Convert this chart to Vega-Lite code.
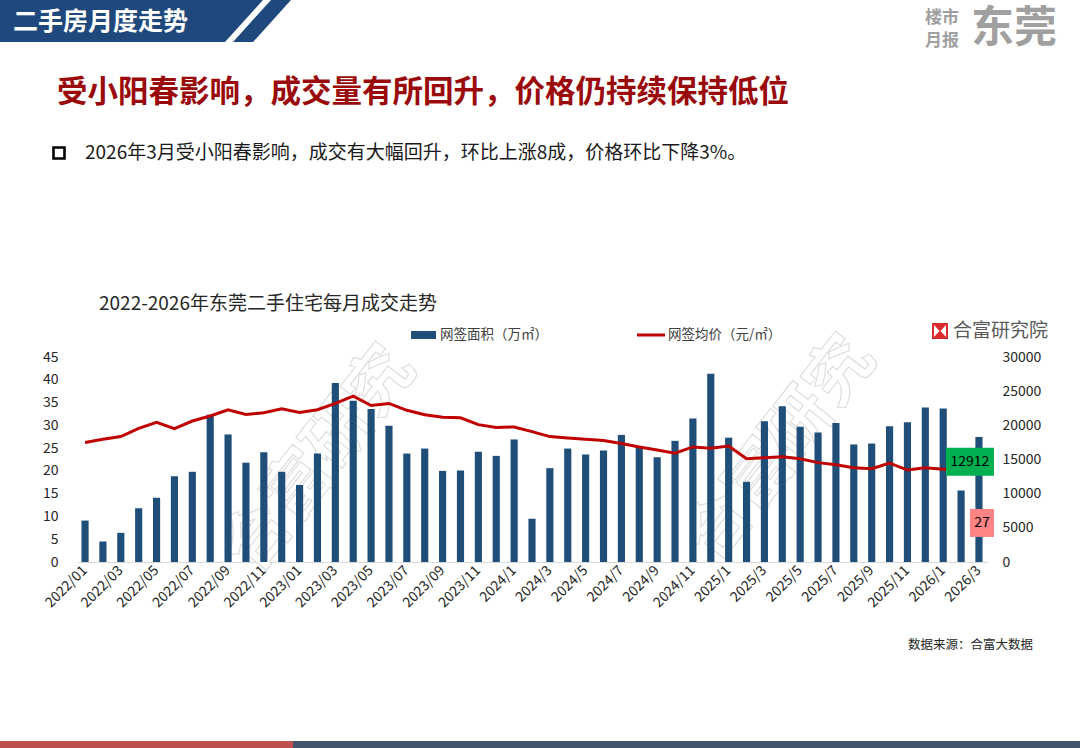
{
  "$schema": "https://vega.github.io/schema/vega-lite/v6.json",
  "width": 910,
  "height": 205,
  "autosize": {"type": "none"},
  "padding": {"left": 77, "top": 357, "right": 93, "bottom": 186},
  "background": "#ffffff",
  "config": {
    "font": "Noto Sans CJK SC",
    "view": {"stroke": null},
    "axis": {"labelFont": "Noto Sans CJK SC"}
  },
  "data": {
    "values": [
      {"month": "2022/01", "area": 9.1, "price": 17500},
      {"month": "2022/02", "area": 4.5, "price": 17960},
      {"month": "2022/03", "area": 6.4, "price": 18350},
      {"month": "2022/04", "area": 11.8, "price": 19560},
      {"month": "2022/05", "area": 14.1, "price": 20440},
      {"month": "2022/06", "area": 18.8, "price": 19510},
      {"month": "2022/07", "area": 19.8, "price": 20630},
      {"month": "2022/08", "area": 32.3, "price": 21360},
      {"month": "2022/09", "area": 28.0, "price": 22280},
      {"month": "2022/10", "area": 21.8, "price": 21600},
      {"month": "2022/11", "area": 24.1, "price": 21840},
      {"month": "2022/12", "area": 19.8, "price": 22430},
      {"month": "2023/01", "area": 16.9, "price": 21890},
      {"month": "2023/02", "area": 23.8, "price": 22280},
      {"month": "2023/03", "area": 39.3, "price": 23200},
      {"month": "2023/04", "area": 35.4, "price": 24270},
      {"month": "2023/05", "area": 33.6, "price": 22900},
      {"month": "2023/06", "area": 29.9, "price": 23200},
      {"month": "2023/07", "area": 23.8, "price": 22200},
      {"month": "2023/08", "area": 24.9, "price": 21550},
      {"month": "2023/09", "area": 20.0, "price": 21200},
      {"month": "2023/10", "area": 20.1, "price": 21100},
      {"month": "2023/11", "area": 24.2, "price": 20100},
      {"month": "2023/12", "area": 23.3, "price": 19700},
      {"month": "2024/1", "area": 26.9, "price": 19760},
      {"month": "2024/2", "area": 9.5, "price": 19080},
      {"month": "2024/3", "area": 20.6, "price": 18350},
      {"month": "2024/4", "area": 24.9, "price": 18160},
      {"month": "2024/5", "area": 23.6, "price": 17960},
      {"month": "2024/6", "area": 24.5, "price": 17770},
      {"month": "2024/7", "area": 27.9, "price": 17330},
      {"month": "2024/8", "area": 25.3, "price": 16840},
      {"month": "2024/9", "area": 23.0, "price": 16400},
      {"month": "2024/10", "area": 26.6, "price": 15920},
      {"month": "2024/11", "area": 31.5, "price": 16840},
      {"month": "2024/12", "area": 41.3, "price": 16650},
      {"month": "2025/1", "area": 27.3, "price": 16980},
      {"month": "2025/2", "area": 17.6, "price": 15100},
      {"month": "2025/3", "area": 30.9, "price": 15270},
      {"month": "2025/4", "area": 34.2, "price": 15410},
      {"month": "2025/5", "area": 29.7, "price": 15120},
      {"month": "2025/6", "area": 28.4, "price": 14540},
      {"month": "2025/7", "area": 30.5, "price": 14240},
      {"month": "2025/8", "area": 25.8, "price": 13800},
      {"month": "2025/9", "area": 26.0, "price": 13660},
      {"month": "2025/10", "area": 29.8, "price": 14490},
      {"month": "2025/11", "area": 30.7, "price": 13460},
      {"month": "2025/12", "area": 33.9, "price": 13800},
      {"month": "2026/1", "area": 33.7, "price": 13560},
      {"month": "2026/2", "area": 15.7, "price": 13310},
      {"month": "2026/3", "area": 27.45, "price": 12912}
    ]
  },
  "resolve": {"scale": {"y": "independent"}, "axis": {"y": "independent"}},
  "layer": [
    {
      "data": {"values": [{}]},
      "mark": {"type": "text", "text": "合富研究", "angle": -52, "fontSize": 66, "fontWeight": "bold", "fill": "#ffffff", "stroke": "#dcdcdc", "strokeWidth": 1.1, "align": "center", "baseline": "middle"},
      "encoding": {"x": {"value": 243}, "y": {"value": 103}}
    },
    {
      "data": {"values": [{}]},
      "mark": {"type": "text", "text": "合富研究", "angle": -52, "fontSize": 66, "fontWeight": "bold", "fill": "#ffffff", "stroke": "#dcdcdc", "strokeWidth": 1.1, "align": "center", "baseline": "middle"},
      "encoding": {"x": {"value": 703}, "y": {"value": 93}}
    },
    {
      "mark": {"type": "bar", "color": "#1F4E79"},
      "encoding": {
        "x": {
          "field": "month", "type": "nominal", "sort": null, "title": null,
          "scale": {"paddingInner": 0.6, "paddingOuter": 0.25},
          "axis": {
            "values": ["2022/01","2022/03","2022/05","2022/07","2022/09","2022/11","2023/01","2023/03","2023/05","2023/07","2023/09","2023/11","2024/1","2024/3","2024/5","2024/7","2024/9","2024/11","2025/1","2025/3","2025/5","2025/7","2025/9","2025/11","2026/1","2026/3"],
            "labelAngle": -45, "labelAlign": "right", "labelBaseline": "middle",
            "labelFontSize": 14, "labelColor": "#262626", "labelPadding": 6,
            "ticks": false, "domainColor": "#d9d9d9", "domainWidth": 1, "grid": false
          }
        },
        "y": {
          "field": "area", "type": "quantitative", "title": null,
          "scale": {"domain": [0, 45], "nice": false},
          "axis": {"orient": "left", "values": [0,5,10,15,20,25,30,35,40,45], "domain": false, "ticks": false, "grid": false, "labelPadding": 19, "labelFontSize": 14, "labelColor": "#262626"}
        }
      }
    },
    {
      "mark": {"type": "line", "color": "#C00000", "strokeWidth": 3},
      "encoding": {
        "x": {"field": "month", "type": "nominal", "sort": null},
        "y": {
          "field": "price", "type": "quantitative", "title": null,
          "scale": {"domain": [0, 30000], "nice": false},
          "axis": {"orient": "right", "values": [0,5000,10000,15000,20000,25000,30000], "domain": false, "ticks": false, "grid": false, "labelPadding": 15, "labelFontSize": 14, "labelColor": "#262626", "format": "d"}
        }
      }
    },
    {
      "transform": [{"filter": "datum.month === '2026/3'"}],
      "mark": {"type": "point", "shape": "M-1,-0.5833L1,-0.5833L1,0.5833L-1,0.5833Z", "size": 2304, "filled": true, "color": "#00B050", "opacity": 1, "strokeWidth": 0, "xOffset": -9, "yOffset": -12},
      "encoding": {
        "x": {"field": "month", "type": "nominal", "sort": null},
        "y": {"field": "price", "type": "quantitative", "scale": {"domain": [0, 30000], "nice": false}, "axis": null}
      }
    },
    {
      "transform": [{"filter": "datum.month === '2026/3'"}],
      "mark": {"type": "text", "fontSize": 14, "color": "#000000", "align": "center", "baseline": "middle", "xOffset": -9, "yOffset": -12},
      "encoding": {
        "x": {"field": "month", "type": "nominal", "sort": null},
        "y": {"field": "price", "type": "quantitative", "scale": {"domain": [0, 30000], "nice": false}, "axis": null},
        "text": {"field": "price", "type": "quantitative", "format": "d"}
      }
    },
    {
      "transform": [{"filter": "datum.month === '2026/3'"}],
      "mark": {"type": "point", "shape": "M-1,-1.1667L1,-1.1667L1,1.1667L-1,1.1667Z", "size": 576, "filled": true, "color": "#FF8585", "opacity": 1, "strokeWidth": 0, "xOffset": 3, "yOffset": 86},
      "encoding": {
        "x": {"field": "month", "type": "nominal", "sort": null},
        "y": {"field": "area", "type": "quantitative", "scale": {"domain": [0, 45], "nice": false}, "axis": null}
      }
    },
    {
      "transform": [{"filter": "datum.month === '2026/3'"}],
      "mark": {"type": "text", "fontSize": 14, "color": "#000000", "align": "center", "baseline": "middle", "xOffset": 3, "yOffset": 86},
      "encoding": {
        "x": {"field": "month", "type": "nominal", "sort": null},
        "y": {"field": "area", "type": "quantitative", "scale": {"domain": [0, 45], "nice": false}, "axis": null},
        "text": {"field": "area", "type": "quantitative", "format": ".0f"}
      }
    },
    {
      "data": {"values": [{}]},
      "mark": {"type": "point", "shape": "M0,0L263,0L225,42L0,42Z M271,0L291,0L253,42L233,42Z", "size": 4, "filled": true, "color": "#1F497D", "opacity": 1, "strokeWidth": 0},
      "encoding": {"x": {"value": -77}, "y": {"value": -357}}
    },
    {
      "data": {"values": [{}]},
      "mark": {"type": "text", "text": "二手房月度走势", "fontSize": 25, "fontWeight": "bold", "color": "#ffffff", "align": "left", "baseline": "middle"},
      "encoding": {"x": {"value": -64}, "y": {"value": -335}}
    },
    {
      "data": {"values": [{}]},
      "mark": {"type": "text", "text": "楼市", "fontSize": 17, "fontWeight": "bold", "color": "#a0a0a0", "align": "left", "baseline": "middle"},
      "encoding": {"x": {"value": 848}, "y": {"value": -339}}
    },
    {
      "data": {"values": [{}]},
      "mark": {"type": "text", "text": "月报", "fontSize": 17, "fontWeight": "bold", "color": "#a0a0a0", "align": "left", "baseline": "middle"},
      "encoding": {"x": {"value": 848}, "y": {"value": -316}}
    },
    {
      "data": {"values": [{}]},
      "mark": {"type": "text", "text": "东莞", "fontSize": 43, "fontWeight": "bold", "color": "#a0a0a0", "align": "left", "baseline": "middle"},
      "encoding": {"x": {"value": 894}, "y": {"value": -328}}
    },
    {
      "data": {"values": [{}]},
      "mark": {"type": "text", "text": "受小阳春影响，成交量有所回升，价格仍持续保持低位", "fontSize": 30.5, "fontWeight": "bold", "color": "#9A0A0A", "align": "left", "baseline": "middle"},
      "encoding": {"x": {"value": -20}, "y": {"value": -264}}
    },
    {
      "data": {"values": [{}]},
      "mark": {"type": "point", "shape": "square", "size": 121, "filled": false, "color": "#000000", "opacity": 1, "strokeWidth": 2.6},
      "encoding": {"x": {"value": -18}, "y": {"value": -204}}
    },
    {
      "data": {"values": [{}]},
      "mark": {"type": "text", "text": "2026年3月受小阳春影响，成交有大幅回升，环比上涨8成，价格环比下降3%。", "fontSize": 19, "color": "#1a1a1a", "align": "left", "baseline": "middle"},
      "encoding": {"x": {"value": 8}, "y": {"value": -204}}
    },
    {
      "data": {"values": [{}]},
      "mark": {"type": "text", "text": "2022-2026年东莞二手住宅每月成交走势", "fontSize": 19, "color": "#262626", "align": "left", "baseline": "middle"},
      "encoding": {"x": {"value": 22}, "y": {"value": -53}}
    },
    {
      "data": {"values": [{}]},
      "mark": {"type": "rect", "color": "#1F4E79"},
      "encoding": {"x": {"value": 334}, "x2": {"value": 359}, "y": {"value": -26}, "y2": {"value": -18}}
    },
    {
      "data": {"values": [{}]},
      "mark": {"type": "text", "text": "网签面积（万㎡）", "fontSize": 13.5, "color": "#404040", "align": "left", "baseline": "middle"},
      "encoding": {"x": {"value": 363}, "y": {"value": -22}}
    },
    {
      "data": {"values": [{}]},
      "mark": {"type": "rule", "color": "#C00000", "strokeWidth": 3},
      "encoding": {"x": {"value": 560}, "x2": {"value": 588}, "y": {"value": -22}}
    },
    {
      "data": {"values": [{}]},
      "mark": {"type": "text", "text": "网签均价（元/㎡）", "fontSize": 13.5, "color": "#404040", "align": "left", "baseline": "middle"},
      "encoding": {"x": {"value": 591}, "y": {"value": -22}}
    },
    {
      "data": {"values": [{}]},
      "mark": {"type": "point", "shape": "M-8,-8L8,-8L8,8L-8,8Z", "size": 4, "filled": true, "color": "#D92B2B", "opacity": 1, "strokeWidth": 0},
      "encoding": {"x": {"value": 863}, "y": {"value": -26}}
    },
    {
      "data": {"values": [{}]},
      "mark": {"type": "point", "shape": "M-6,-6L-0.5,0L-6,6Z M6,-6L0.5,0L6,6Z", "size": 4, "filled": true, "color": "#ffffff", "opacity": 1, "strokeWidth": 0},
      "encoding": {"x": {"value": 863}, "y": {"value": -26}}
    },
    {
      "data": {"values": [{}]},
      "mark": {"type": "text", "text": "合富研究院", "fontSize": 19, "color": "#595959", "align": "left", "baseline": "middle"},
      "encoding": {"x": {"value": 876}, "y": {"value": -26}}
    },
    {
      "data": {"values": [{}]},
      "mark": {"type": "text", "text": "数据来源：合富大数据", "fontSize": 12.5, "color": "#262626", "align": "left", "baseline": "middle"},
      "encoding": {"x": {"value": 831}, "y": {"value": 288}}
    },
    {
      "data": {"values": [{}]},
      "mark": {"type": "rect", "color": "#C0504D"},
      "encoding": {"x": {"value": -77}, "x2": {"value": 216}, "y": {"value": 384}, "y2": {"value": 391}}
    },
    {
      "data": {"values": [{}]},
      "mark": {"type": "rect", "color": "#44546A"},
      "encoding": {"x": {"value": 216}, "x2": {"value": 1003}, "y": {"value": 384}, "y2": {"value": 391}}
    }
  ]
}
